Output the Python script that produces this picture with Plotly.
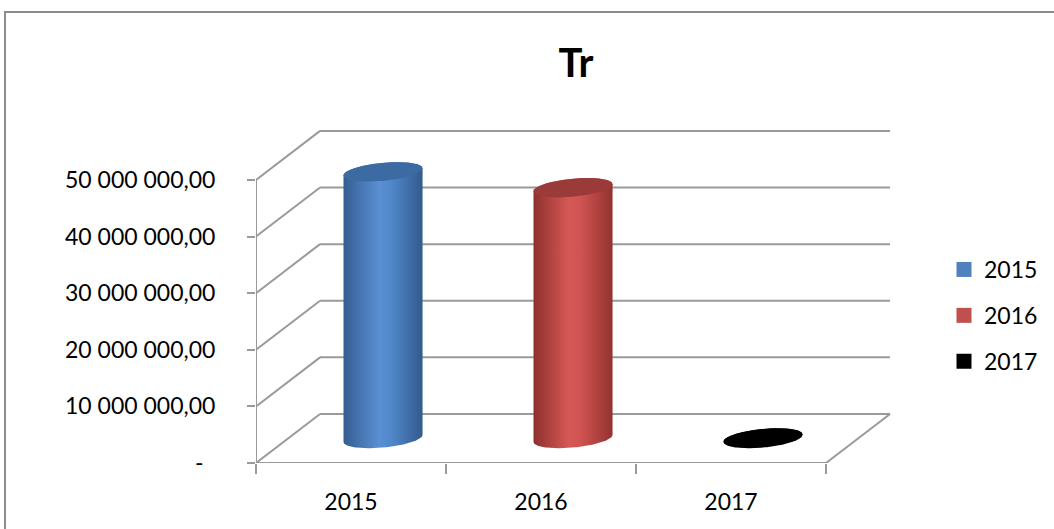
import numpy as np
import plotly.graph_objects as go

# ---- data ----
categories = ["2015", "2016", "2017"]
values = [47100000, 44300000, 100000]
series_colors = ["#4f81bd", "#c0504d", "#000000"]
body_scales = [
    [[0, "#345d92"], [0.45, "#5a8fd3"], [0.6, "#5188cb"], [1, "#335a8c"]],
    [[0, "#8e302e"], [0.45, "#d65955"], [0.6, "#cf5350"], [1, "#93322f"]],
    [[0, "#000000"], [1, "#000000"]],
]
cap_colors = ["#3c6aa3", "#9a3b39", "#000000"]
y_tickvals = [0, 10000000, 20000000, 30000000, 40000000, 50000000]
y_ticktext = ["-\u00a0\u00a0", "10 000 000,00", "20 000 000,00",
              "30 000 000,00", "40 000 000,00", "50 000 000,00"]

# ---- geometry / style constants ----
DX = 0.337        # depth offset in category units
DY = 8.66e6       # depth offset in value units
A = 0.208         # cylinder radius (x units)
B = 1.6e6         # ellipse half height (value units)
TILT = 3.0e6      # ellipse tilt (value per x unit)
GRID = "#9a9a9a"
W, H = 1054, 529
L, R, T, Bm = 256, 152, 112, 66
XMAX, YMAX = 3.4, 62e6
FS = 23

def px_to_paper(px, py):
    return (px - L) / (W - L - R), (H - Bm - py) / (H - T - Bm)

def ell(cx, cy, t):
    ox = A * np.cos(t)
    return cx + ox, cy + B * np.sin(t) + TILT * ox

fig = go.Figure()

n = len(categories)
for i, (cat, v) in enumerate(zip(categories, values)):
    cx = i + 0.5 + DX / 2
    cy0 = DY / 2
    cy1 = v + DY / 2
    t_bot = np.linspace(np.pi, 2 * np.pi, 80)
    t_top = np.linspace(0, np.pi, 80)
    xb, yb = ell(cx, cy0, t_bot)
    xt, yt = ell(cx, cy1, t_top)
    xs = np.concatenate([xb, xt, xb[:1]])
    ys = np.concatenate([yb, yt, yb[:1]])
    fig.add_trace(go.Scatter(
        x=xs, y=ys, mode="lines", line=dict(width=0), fill="toself",
        fillgradient=dict(type="horizontal", colorscale=body_scales[i]),
        showlegend=False, hoverinfo="skip"))
    tc = np.linspace(0, 2 * np.pi, 120)
    xc, yc = ell(cx, cy1, tc)
    fig.add_trace(go.Scatter(
        x=xc, y=yc, mode="lines", line=dict(width=0), fill="toself",
        fillcolor=cap_colors[i], showlegend=False, hoverinfo="skip"))

# legend entries
for i, cat in enumerate(categories):
    fig.add_trace(go.Scatter(
        x=[None], y=[None], mode="markers", name=cat, legendgroup=cat,
        marker=dict(symbol="square", size=15, color=series_colors[i])))

# walls / grid
shapes = []
def line(x0, y0, x1, y1):
    shapes.append(dict(type="line", xref="x", yref="y", x0=x0, y0=y0, x1=x1, y1=y1,
                       line=dict(color=GRID, width=2), layer="below"))
for v in y_tickvals:
    line(0, v, DX, v + DY)
    line(DX, v + DY, n + DX, v + DY)
line(0, 0, n, 0)
line(n, 0, n + DX, DY)
line(0, 0, 0, y_tickvals[-1])

# outer border
bx0, by0 = px_to_paper(5, 12)
bx1, by1 = px_to_paper(1080, 560)
shapes.append(dict(type="rect", xref="paper", yref="paper", x0=bx0, y0=by1, x1=bx1, y1=by0,
                   line=dict(color="#8c8c8c", width=2), layer="below"))

lx, ly = px_to_paper(944, 248)
tx, _ = px_to_paper(576, 0)

fig.update_layout(
    width=W, height=H,
    margin=dict(l=L, r=R, t=T, b=Bm, autoexpand=False),
    paper_bgcolor="white", plot_bgcolor="white",
    font=dict(family="Lato", size=FS, color="black"),
    title=dict(text="<b>Tr</b>", x=tx, xref="paper", xanchor="center",
               y=1 - 63 / H, yref="container", yanchor="middle",
               font=dict(family="Lato", size=40, color="black")),
    shapes=shapes,
    showlegend=True,
    legend=dict(x=lx, y=ly, xanchor="left", yanchor="top", tracegroupgap=13,
                font=dict(family="Lato", size=FS, color="black"),
                bgcolor="rgba(0,0,0,0)"),
    xaxis=dict(range=[0, XMAX], tickvals=[i + 0.5 for i in range(n)], ticktext=categories,
               ticks="", showgrid=False, zeroline=False, showline=False,
               ticklabelstandoff=23, fixedrange=True, automargin=False,
               minor=dict(tickvals=list(range(n + 1)), ticks="outside", ticklen=10,
                          tickwidth=2, tickcolor=GRID, showgrid=False)),
    yaxis=dict(range=[0, YMAX], tickvals=y_tickvals, ticktext=y_ticktext,
               ticks="outside", ticklen=8, tickwidth=2, tickcolor=GRID,
               showgrid=False, zeroline=False, showline=False, automargin=False,
               ticklabelstandoff=27, fixedrange=True),
)

fig.write_html("out.html")
